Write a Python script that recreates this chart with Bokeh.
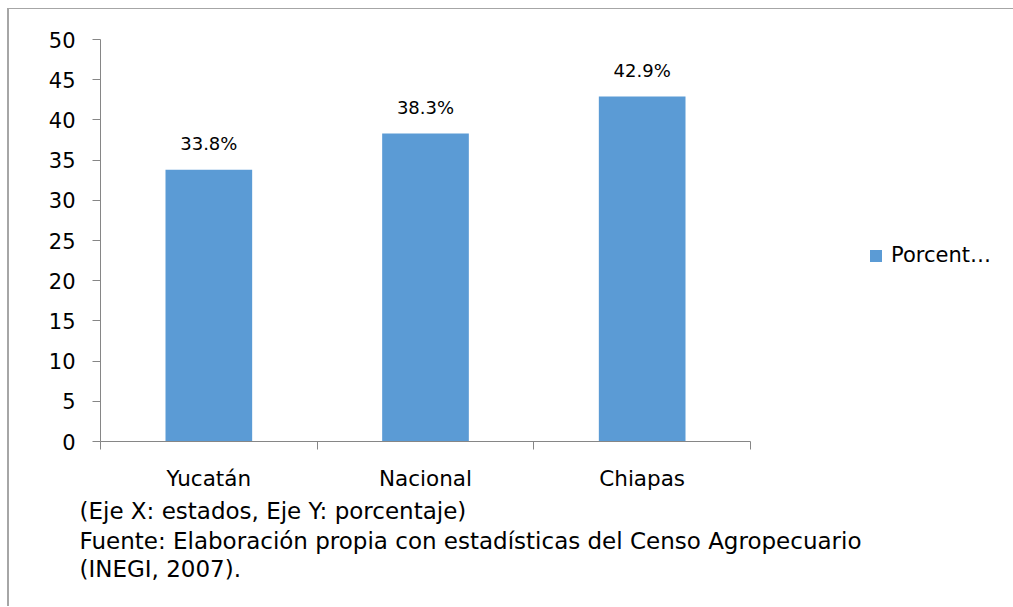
from bokeh.plotting import figure
from bokeh.models import (ColumnDataSource, FixedTicker, LabelSet, Legend,
                          LegendItem, Range1d, LinearAxis, Title)
from bokeh.core.properties import value
from bokeh.embed import file_html
from bokeh.resources import INLINE

categories = ["Yucatán", "Nacional", "Chiapas"]
values = [33.8, 38.3, 42.9]
value_labels = ["33.8%", "38.3%", "42.9%"]
y_ticks = [0, 5, 10, 15, 20, 25, 30, 35, 40, 45, 50]
series_name = "Porcent…"
notes = ["(Eje X: estados, Eje Y: porcentaje)",
         "Fuente: Elaboración propia con estadísticas del Censo Agropecuario",
         "(INEGI, 2007)."]

centers = [i + 0.5 for i in range(len(categories))]
edges = [i for i in range(len(categories) + 1)]

FONT = "DejaVu Sans"
GRID = "#868686"

src = ColumnDataSource(dict(x=centers, top=values, lab=value_labels))

p = figure(frame_width=650, frame_height=402, output_backend="svg", toolbar_location=None,
           x_range=Range1d(0, len(categories)), y_range=Range1d(0, 50),
           min_border_left=91, min_border_right=263, min_border_top=30,
           min_border_bottom=165, x_axis_type=None, y_axis_type=None)
p.outline_line_color = None
p.styles = {"margin-left": "7px", "margin-top": "8px",
            "border-left": "2px solid #a6a6a6", "border-top": "1px solid #a6a6a6"}

r = p.vbar(x="x", top="top", width=0.4, source=src, fill_color="#5B9BD5",
           line_color=None)

# y axis
ya = LinearAxis(ticker=FixedTicker(ticks=y_ticks, minor_ticks=[]))
ya.axis_line_color = GRID
ya.major_tick_line_color = GRID
ya.major_tick_out = 8
ya.major_tick_in = 0
ya.minor_tick_out = 0
ya.major_label_text_font = FONT
ya.major_label_text_font_size = "21px"
ya.major_label_text_color = "#000000"
ya.major_label_standoff = 17
p.add_layout(ya, "left")

# x axis
xa = LinearAxis(ticker=FixedTicker(ticks=centers, minor_ticks=edges))
xa.major_label_overrides = {c: n for c, n in zip(centers, categories)}
xa.axis_line_color = GRID
xa.major_tick_out = 0
xa.major_tick_in = 0
xa.minor_tick_out = 8
xa.minor_tick_in = 0
xa.minor_tick_line_color = GRID
xa.major_label_text_font = FONT
xa.major_label_text_font_size = "21.5px"
xa.major_label_text_color = "#000000"
xa.major_label_standoff = 16
p.add_layout(xa, "below")

p.ygrid.ticker = FixedTicker(ticks=y_ticks, minor_ticks=[])
p.ygrid.grid_line_color = GRID
p.xgrid.visible = False

labels = LabelSet(x="x", y="top", text="lab", source=src, text_align="center",
                  text_baseline="middle", y_offset=26, text_font=value(FONT),
                  text_font_size=value("18px"), text_color="#000000")
p.add_layout(labels)

legend = Legend(items=[LegendItem(label=series_name, renderers=[r])],
                location=(118, 174), padding=0, margin=0, spacing=0,
                glyph_width=15, glyph_height=15, label_standoff=8,
                label_text_font=FONT, label_text_font_size="21px",
                label_text_color="#000000", border_line_color=None,
                background_fill_alpha=0)
p.add_layout(legend, "right")

for i, t in enumerate(notes):
    p.add_layout(Title(text=t, align="left", offset=-21, standoff=4 if i == 0 else 0,
                       text_font=FONT, text_font_size="23px",
                       text_font_style="normal", text_color="#000000"), "below")

open("out.html", "w").write(file_html(p, INLINE))
